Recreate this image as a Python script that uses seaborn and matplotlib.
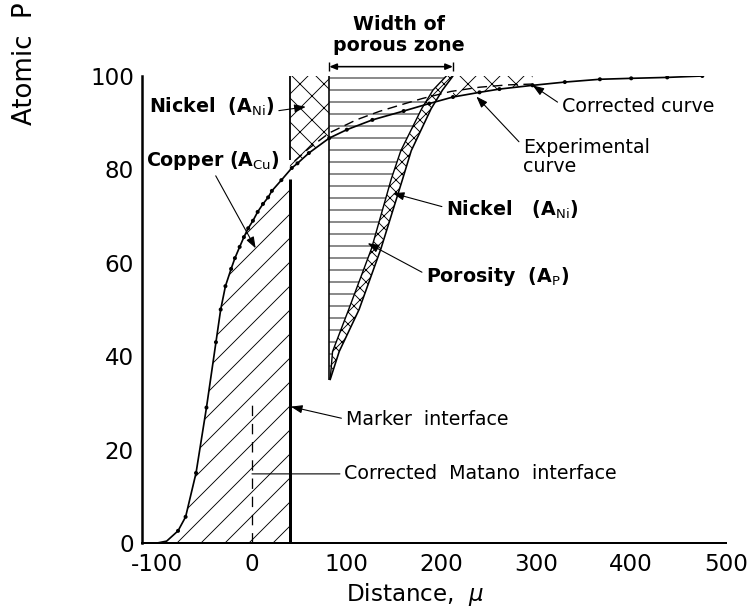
import numpy as np
import pandas as pd
import matplotlib
matplotlib.use("Agg")
import matplotlib.pyplot as plt
import seaborn as sns

# ---------------- data ----------------
exp_x = [-100, -90, -78, -70, -59, -48, -38, -33, -28, -22, -18, -13, -8.5, -4, 1, 6,
         11.6, 17, 21, 31, 42, 48, 60, 81.5, 100, 127, 160, 187, 212, 240, 261, 296,
         330, 367, 400, 438, 475]
exp_y = [0, 0.4, 2.6, 5.6, 15, 29, 43, 50, 55, 58.7, 61, 63.4, 65.5, 67.4, 69, 70.9,
         72.6, 74, 75.4, 77.7, 80.3, 81.3, 83.5, 86.7, 88.5, 90.6, 92.5, 94.1, 95.5, 96.5,
         97.2, 98, 98.7, 99.3, 99.5, 99.7, 100]
corr_x = [45, 60, 81.5, 110, 134, 160, 180, 210, 240, 270, 300]
corr_y = [81.8, 84.5, 87.8, 90.6, 92.4, 94.0, 95.2, 96.7, 97.6, 98.1, 98.3]

band_y = [35, 41, 50, 63, 78, 84, 93, 97, 100]
band_inner_x = [82.5, 85, 102, 126, 147, 157, 179, 191, 205]
band_outer_x = [82.5, 92, 113, 136, 159, 168, 189, 201, 212]

marker_x, marker_top = 40, 78
nickel_left_bottom = 82
matano_x, matano_top = 0, 30
porous_left, porous_right = 81.5, 212
strip_right = 310

x_ticks = [-100, 0, 100, 200, 300, 400, 500]
y_ticks = [0, 20, 40, 60, 80, 100]

# ---------------- style ----------------
sns.set_style("white")
plt.rcParams["font.family"] = ["DejaVu Sans"]
plt.rcParams["hatch.linewidth"] = 0.9
plt.rcParams["mathtext.fontset"] = "dejavusans"
plt.rcParams["text.color"] = "black"
plt.rcParams["axes.labelcolor"] = "black"
plt.rcParams["xtick.color"] = "black"
plt.rcParams["ytick.color"] = "black"

DPI = 72
fig = plt.figure(figsize=(755 / DPI, 613 / DPI), dpi=DPI)
ax = fig.add_axes([142 / 755, 1 - 543 / 613, (726 - 142) / 755, (543 - 76) / 613])

ex = np.array(exp_x, dtype=float)
ey = np.array(exp_y, dtype=float)
df_exp = pd.DataFrame({"x": ex, "y": ey})
df_corr = pd.DataFrame({"x": corr_x, "y": corr_y})

hkw = dict(facecolor="none", edgecolor="black", linewidth=0)

# Copper area (left of marker interface, under curve)
m = ex <= marker_x
cx = np.append(ex[m], marker_x)
cy = np.append(ey[m], np.interp(marker_x, ex, ey))
ax.fill_between(cx, 0, cy, hatch="/", **hkw)

# Nickel area (between marker interface and porous zone, above curve)
m2 = (ex > marker_x) & (ex < porous_left)
nx = np.concatenate([[marker_x], ex[m2], [porous_left]])
ny = np.interp(nx, ex, ey)
ax.fill_between(nx, ny, 100, hatch="x", **hkw)

# Porosity area
ax.fill_betweenx(band_y, porous_left, band_inner_x, hatch="-", **hkw)
# Nickel band on right
ax.fill_betweenx(band_y, band_inner_x, band_outer_x, hatch="xx", **hkw)
sns.lineplot(x=band_inner_x, y=band_y, sort=False, estimator=None, color="black", lw=1.4, ax=ax)
sns.lineplot(x=band_outer_x, y=band_y, sort=False, estimator=None, color="black", lw=1.6, ax=ax)

# Upper strip right of porous zone
m3 = (ex >= porous_right) & (ex <= strip_right)
ax.fill_between(ex[m3], ey[m3], 100, hatch="x", **hkw)

# Curves
sns.lineplot(data=df_exp, x="x", y="y", sort=False, estimator=None, color="black", lw=1.7, ax=ax)
sns.scatterplot(data=df_exp.iloc[2:], x="x", y="y", color="black", s=16, edgecolor="none", ax=ax, zorder=5)
sns.lineplot(data=df_corr, x="x", y="y", sort=False, estimator=None, color="black", lw=1.4,
             ax=ax, linestyle=(0, (7, 4)))

# Interfaces
ax.vlines(marker_x, 0, marker_top, color="black", lw=3)
ax.vlines(marker_x, nickel_left_bottom, 100, color="black", lw=1.8)
ax.vlines(porous_left, band_y[0], 100, color="black", lw=1.6)
ax.vlines(matano_x, 0, matano_top, color="black", lw=1.3, linestyles=(0, (8, 6)))

# Width of porous zone arrow
ax.annotate("", xy=(porous_left, 102), xytext=(porous_right, 102),
            arrowprops=dict(arrowstyle="<|-|>,head_length=0.6,head_width=0.25", lw=1.6,
                            color="black", shrinkA=0, shrinkB=0), annotation_clip=False)
ax.vlines([porous_left, porous_right], 101, 103, color="black", lw=1.4, clip_on=False)
ax.text(154.5, 108.8, "Width of\nporous zone", ha="center", va="center", fontsize=19,
        linespacing=1.1, fontweight="bold")

FS = 19
def lab(text, xy, xytext, relpos=(0, 0.5), style="-|>", **kw):
    ax.annotate(text, xy=xy, xytext=xytext, ha=kw.pop("ha", "left"), va=kw.pop("va", "center"),
                fontsize=FS, annotation_clip=False,
                arrowprops=dict(arrowstyle=style + (",head_length=0.5,head_width=0.18" if style != "-" else ""),
                                lw=1.1, color="black", shrinkA=2, shrinkB=0, relpos=relpos),
                **kw)

lab("Marker  interface", (41, 29.2), (99, 26.5))
lab("Corrected  Matano  interface", (0, 14.8), (97.5, 14.8), style="-")
lab("Copper (A$_{\\mathrm{Cu}}$)", (3.9, 63.1), (-112, 82), relpos=(0.5, 0.05), fontweight="bold")
lab("Nickel  (A$_{\\mathrm{Ni}}$)", (56.8, 93.4), (-109, 93.4), relpos=(1.0, 0.3), fontweight="bold")
lab("Corrected curve", (296, 98), (326.7, 93.4), relpos=(0, 0.6))
lab("Experimental\ncurve", (236.7, 95.6), (285.7, 82.6), relpos=(0, 0.8), linespacing=1.0)
lab("Nickel   (A$_{\\mathrm{Ni}}$)", (148.5, 74.9), (205, 71.3), relpos=(0, 0.6), fontweight="bold")
lab("Porosity  (A$_{\\mathrm{P}}$)", (122, 64.2), (183.8, 57), relpos=(0, 0.6), fontweight="bold")

# Axes
ax.set_xlim(-116, 500)
ax.set_ylim(0, 100)
ax.set_xticks(x_ticks)
ax.set_yticks(y_ticks)
ax.set_xticklabels([str(v) for v in x_ticks])
ax.set_yticklabels([str(v) for v in y_ticks])
ax.tick_params(direction="in", length=9, width=1.5, labelsize=23, pad=8, colors="black")
ax.tick_params(axis="x", pad=10)
sns.despine(ax=ax)
ax.spines["left"].set_linewidth(2.5)
ax.spines["bottom"].set_linewidth(2.0)
ax.spines["left"].set_color("black")
ax.spines["bottom"].set_color("black")
ax.set_xlabel("Distance,  $\\mu$", fontsize=23)
ax.xaxis.set_label_coords((415 - 142) / 584, -38 / 467)
ax.set_ylabel("")

fig.text(25 / 755, 1 - 125 / 613, "Atomic  P", rotation=90, ha="center",
         va="bottom", fontsize=26)

fig.savefig("out.png", dpi=DPI)
